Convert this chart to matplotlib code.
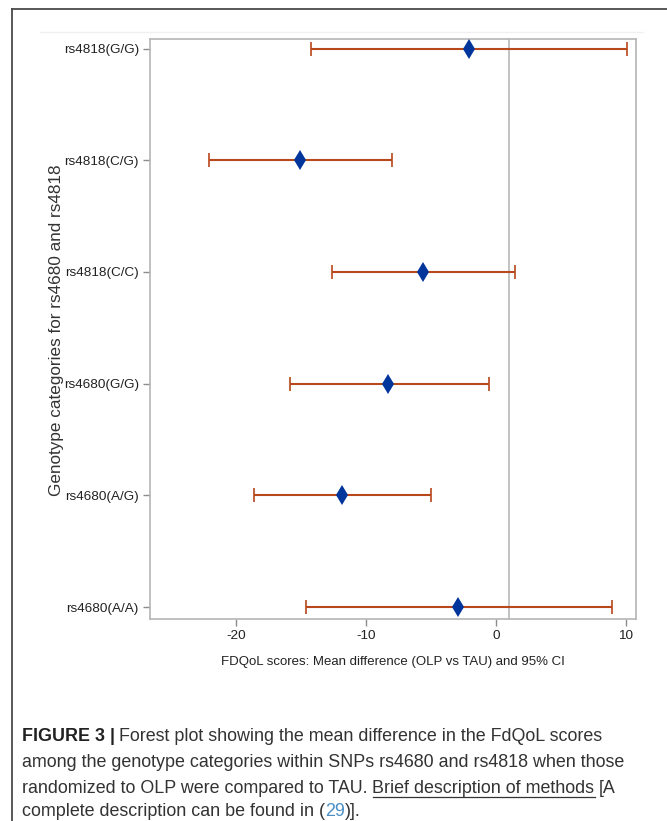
import matplotlib
matplotlib.use("Agg")
import matplotlib.pyplot as plt
from matplotlib.lines import Line2D

# genotype rows, bottom to top
labels = ["rs4680(A/A)", "rs4680(A/G)", "rs4680(G/G)",
          "rs4818(C/C)", "rs4818(C/G)", "rs4818(G/G)"]
mean_diff = [-2.9, -11.8, -8.3, -5.6, -15.1, -2.1]
ci_low = [-14.6, -18.6, -15.8, -12.6, -22.1, -14.2]
ci_high = [8.9, -5.0, -0.5, 1.5, -8.0, 10.1]
ref_x = 1.0
xticks = [-20, -10, 0, 10]

W, H = 667, 821
fig = plt.figure(figsize=(W / 100, H / 100), dpi=100)
fig.patch.set_facecolor("white")

# outer frame (top + left)
fig.add_artist(Line2D([12 / W, 1], [1 - 9 / H, 1 - 9 / H], color="#4a4a4a", lw=1.3))
fig.add_artist(Line2D([12 / W, 12 / W], [0, 1 - 9 / H], color="#4a4a4a", lw=1.3))
# faint graph border line
fig.add_artist(Line2D([40 / W, 643 / W], [1 - 32 / H, 1 - 32 / H], color="#f0f0f0", lw=1))

ax = fig.add_axes([150 / W, 1 - 619 / H, (636 - 150) / W, (619 - 38.6) / H])
ypos = list(range(len(labels)))
err = [[m - lo for m, lo in zip(mean_diff, ci_low)],
       [hi - m for m, hi in zip(mean_diff, ci_high)]]

ax.axvline(ref_x, color="#bdbdbd", lw=1.3, zorder=1)
ax.errorbar(mean_diff, ypos, xerr=err, fmt="none", ecolor="#b9471c",
            elinewidth=1.5, capsize=5, capthick=1.2, zorder=2)
ax.plot(mean_diff, ypos, linestyle="none", marker="d", markersize=10.5,
        markeredgewidth=0, color="#00359b", zorder=3)

ax.set_xlim(-26.6, 10.77)
ax.set_ylim(-0.107, 5.089)
ax.set_xticks(xticks)
ax.set_xticklabels([str(t) for t in xticks])
ax.set_yticks(ypos)
ax.set_yticklabels(labels)

tickfont = ["Liberation Sans Narrow", "Liberation Sans"]
for t in ax.get_xticklabels() + ax.get_yticklabels():
    t.set_family(tickfont)
    t.set_fontsize(9.7)
    t.set_color("#222222")

for s in ax.spines.values():
    s.set_color("#b5b5b5")
    s.set_linewidth(1.2)
ax.tick_params(direction="out", length=5, width=1, color="#8c8c8c", pad=3)

ax.set_xlabel("FDQoL scores: Mean difference (OLP vs TAU) and 95% CI",
              family=tickfont, fontsize=9.5, color="#222222", labelpad=10)
fig.text(57 / W, 1 - 330 / H, "Genotype categories for rs4680 and rs4818",
         rotation=90, ha="center", va="center", family="Liberation Sans",
         fontsize=12.3, color="#333333")

# caption
capfont = "Liberation Sans"
fs = 12.9
renderer = fig.canvas.get_renderer()


def seg(x, y, s, **kw):
    t = fig.text(x, y, s, family=capfont, fontsize=fs, va="baseline", **kw)
    bb = t.get_window_extent(renderer)
    return t, bb


line_y = [741, 767, 793, 816]
x0 = 22 / W
t, bb = seg(x0, 1 - line_y[0] / H, "FIGURE 3 |", weight="bold", color="#222222")
seg(bb.x1 / W + 4 / W, 1 - line_y[0] / H,
    "Forest plot showing the mean difference in the FdQoL scores", color="#333333")
seg(x0, 1 - line_y[1] / H,
    "among the genotype categories within SNPs rs4680 and rs4818 when those",
    color="#333333")
t, bb = seg(x0, 1 - line_y[2] / H, "randomized to OLP were compared to TAU. ",
            color="#333333")
t2, bb2 = seg(bb.x1 / W, 1 - line_y[2] / H, "Brief description of methods",
              color="#333333")
fig.add_artist(Line2D([bb2.x0 / W, bb2.x1 / W],
                      [1 - (line_y[2] + 4) / H, 1 - (line_y[2] + 4) / H],
                      color="#333333", lw=0.9))
seg(bb2.x1 / W + 4 / W, 1 - line_y[2] / H, "[A", color="#333333")
t, bb = seg(x0, 1 - line_y[3] / H, "complete description can be found in (",
            color="#333333")
t, bb = seg(bb.x1 / W, 1 - line_y[3] / H, "29", color="#4b8fc4")
seg(bb.x1 / W, 1 - line_y[3] / H, ")].", color="#333333")

fig.savefig("out.png", dpi=100)
